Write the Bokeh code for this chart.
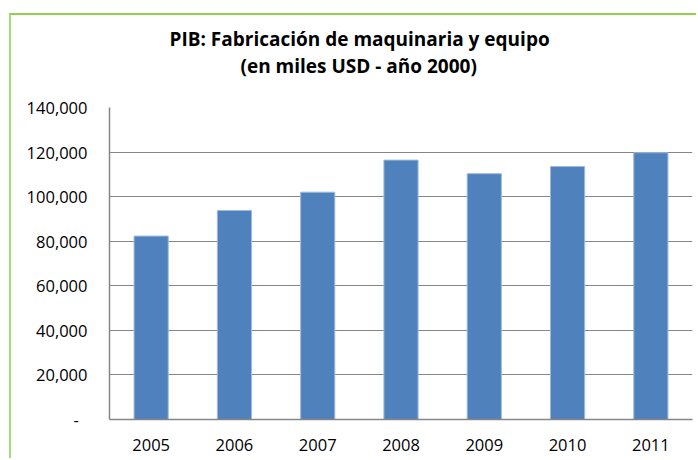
from bokeh.plotting import figure
from bokeh.models import Title, NumeralTickFormatter, Range1d, FactorRange
from bokeh.embed import file_html
from bokeh.resources import INLINE

years = ["2005", "2006", "2007", "2008", "2009", "2010", "2011"]
values = [82300, 93800, 102000, 116400, 110300, 113500, 119700]
title_line1 = "PIB: Fabricación de maquinaria y equipo"
title_line2 = "(en miles USD - año 2000)"

FONT = "Open Sans"
GRAY = "#868686"

p = figure(x_range=FactorRange(*years), y_range=Range1d(0, 140000),
           width=687, height=445, output_backend="svg", toolbar_location=None,
           min_border_left=98, min_border_right=6, min_border_top=92, min_border_bottom=41)
p.margin = (13, 0, 0, 9)
p.styles = {"border-top": "2px solid #92D050", "border-left": "2px solid #A8DA7A"}

p.vbar(x=years, top=values, width=0.41, fill_color="#4F81BD", line_color="#9DB9DE", line_width=1)

p.outline_line_color = None
p.background_fill_color = "white"
p.border_fill_color = "white"

p.xgrid.grid_line_color = None
p.ygrid.grid_line_color = GRAY
p.ygrid.grid_line_width = 1.2

p.yaxis.ticker = [0, 20000, 40000, 60000, 80000, 100000, 120000, 140000]
p.yaxis.formatter = NumeralTickFormatter(format="0,0")
p.yaxis.major_label_overrides = {0: "-\u00a0\u00a0"}
for ax in (p.xaxis[0], p.yaxis[0]):
    ax.axis_line_color = GRAY
    ax.axis_line_width = 1.5
    ax.major_tick_line_color = None
    ax.minor_tick_line_color = None
    ax.major_label_text_font = FONT
    ax.major_label_text_font_size = "16.5px"
    ax.major_label_text_color = "black"
p.yaxis.major_label_standoff = 16
p.xaxis.major_label_standoff = 13

t2 = Title(text=title_line2, align="left", text_font=FONT, text_font_style="bold",
           text_font_size="19px", text_color="black", offset=131, standoff=58)
t1 = Title(text=title_line1, align="left", text_font=FONT, text_font_style="bold",
           text_font_size="19px", text_color="black", offset=60, standoff=-61)
p.add_layout(t2, "above")
p.add_layout(t1, "above")

open("out.html", "w").write(file_html(p, INLINE))
